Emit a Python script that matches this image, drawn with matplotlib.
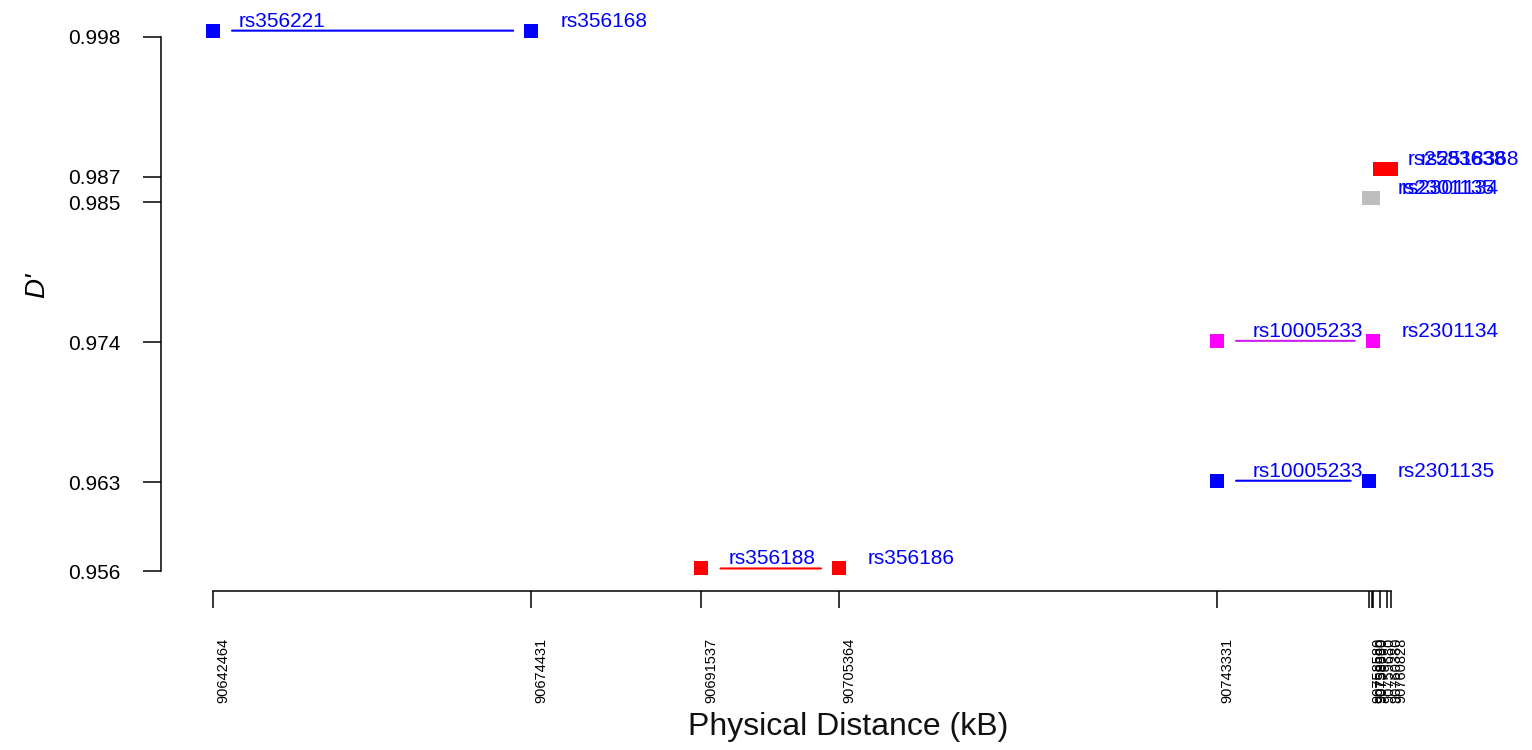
import matplotlib
matplotlib.use('Agg')
import matplotlib.pyplot as plt
import matplotlib.transforms as mtrans

plt.rcParams['font.family'] = ['Liberation Sans', 'DejaVu Sans']

# SNP pairs (first, second), positions and D'
snp1 = ['rs356221', 'rs356188', 'rs10005233', 'rs10005233', 'rs2301135', 'rs2583638']
snp2 = ['rs356168', 'rs356186', 'rs2301134', 'rs2301135', 'rs2301134', 'rs2518368']
pos1 = [90642464, 90691537, 90743331, 90743331, 90758580, 90759680]
pos2 = [90674431, 90705364, 90758990, 90758580, 90758990, 90760828]
dprime = [0.9985, 0.9562, 0.9741, 0.9631, 0.9853, 0.9876]
dot_col = ['blue', 'red', 'magenta', 'blue', '#bebebe', 'red']
line_col = ['blue', 'red', '#d020f0', 'blue', '#bebebe', 'red']

# axis ticks
xticks = [90642464, 90674431, 90691537, 90705364, 90743331,
          90758580, 90758880, 90758990, 90759680, 90760380, 90760828]
yticks = [0.956, 0.963, 0.974, 0.985, 0.987, 0.998]

# pixel offset of the first label from its marker
lab_dx = [26, 27, 36, 36, 29, 28]

W, H = 1532, 750
fig = plt.figure(figsize=(W / 100, H / 100), dpi=100)
# axes box in pixels
L, R, B, T = 161, 1500, 591, 20
ax = fig.add_axes([L / W, (H - B) / H, (R - L) / W, (B - T) / H])

# map first/last reference ticks to pixels
sx = (1217 - 213) / (90743331 - 90642464)
xmin = 90642464 - (213 - L) / sx
ax.set_xlim(xmin, xmin + (R - L) / sx)
sy = (571 - 37) / (0.998 - 0.956)
ymin = 0.956 - (B - 571) / sy
ax.set_ylim(ymin, ymin + (B - T) / sy)

for i in range(len(snp1)):
    ax.plot([pos1[i], pos2[i]], [dprime[i], dprime[i]], 's', color=dot_col[i],
            markersize=10, markeredgewidth=0, clip_on=False, zorder=3)
    if (pos2[i] - pos1[i]) * sx > 45:
        ax.annotate('', xy=(pos2[i], dprime[i]), xytext=(pos1[i], dprime[i]),
                    arrowprops=dict(arrowstyle='-', color=line_col[i], lw=1.5,
                                    shrinkA=13.7, shrinkB=13))
    ax.annotate(snp1[i], (pos1[i], dprime[i]), xytext=(lab_dx[i], 4),
                textcoords='offset pixels', va='baseline', ha='left',
                color='blue', fontsize=15)
    ax.annotate(snp2[i], (pos2[i], dprime[i]), xytext=(29, 4),
                textcoords='offset pixels', va='baseline', ha='left',
                color='blue', fontsize=15)

for s in ['top', 'right']:
    ax.spines[s].set_visible(False)
ax.spines['left'].set_bounds(min(yticks), max(yticks))
ax.spines['bottom'].set_bounds(min(xticks), max(xticks))
ax.spines['left'].set_linewidth(1.1)
ax.spines['bottom'].set_linewidth(1.1)

ax.set_yticks(yticks)
ax.set_yticklabels(['%.3f' % v for v in yticks])
ax.tick_params(axis='y', length=13, width=1.1, pad=16, labelsize=15)

ax.set_xticks(xticks)
ax.set_xticklabels([str(v) for v in xticks], rotation=90, va='top')
ax.tick_params(axis='x', length=12.5, width=1.1, pad=21, labelsize=10.5)
shift = mtrans.ScaledTranslation(10 / 100, 0, fig.dpi_scale_trans)
for lab in ax.get_xticklabels():
    lab.set_transform(lab.get_transform() + shift)

fig.text(848 / W, 1 - 727 / H, 'Physical Distance (kB)', ha='center',
         va='center', fontsize=23, color='#111111')
fig.text(37 / W, 1 - 285 / H, "D'", ha='center', va='center', rotation=90,
         fontsize=20, style='italic')

fig.savefig('out.png', dpi=100)
